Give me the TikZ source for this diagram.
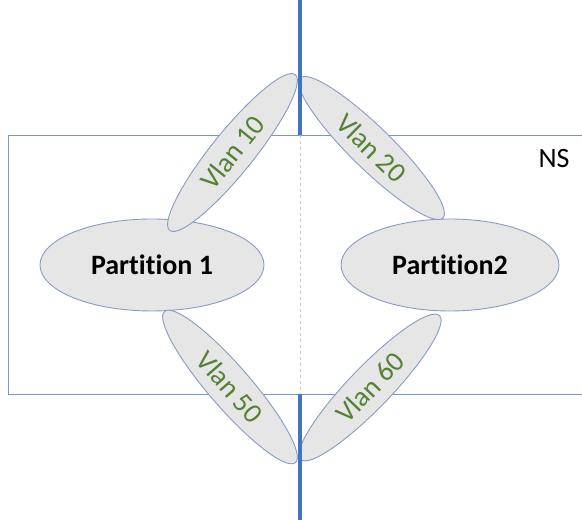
\documentclass[tikz,border=0pt]{standalone}
\usepackage{fontspec}
\setmainfont{Carlito}[Ligatures={NoCommon}]
\usetikzlibrary{shapes.geometric}

\begin{document}
\begin{tikzpicture}[x=1pt,y=1pt,font=\fontsize{28}{32}\selectfont]
\definecolor{cedge}{RGB}{135,155,195}\definecolor{cline}{RGB}{68,114,196}
\definecolor{cvlan}{RGB}{84,130,53}\definecolor{cfill}{RGB}{231,230,230}
\definecolor{cbox}{RGB}{120,150,200}
\tikzset{
  part/.style={ellipse,draw=cedge,fill=cfill,line width=0.9,inner sep=0pt,
    minimum width=#1,minimum height=92,font=\fontsize{28}{32}\selectfont\bfseries},
  vlan/.style={ellipse,draw=cedge,fill=cfill,line width=0.9,inner sep=0pt,
    minimum width=200,minimum height=42,text=cvlan,rotate=#1}}
\useasboundingbox (0,0) rectangle (582,520);
% ---- NS box, open on the right ----
\draw[cbox,line width=0.9] (582,385) -- (8,385) -- (8,126) -- (582,126);
\node (ns) at (554,361) {NS};
% ---- the two partitions ----
\node[part=224] (p1) at (152,255) {Partition 1};
\node[part=218] (p2) at (450,255) {Partition2};
% ---- the four vlans, tips meeting on the split line ----
\node[vlan=51.1]  (v10) at (232.5,367.5) {Vlan 10};
\node[vlan=-44.4] (v20) at (371.5,372)   {Vlan 20};
\node[vlan=-49.1] (v50) at (230,133)     {Vlan 50};
\node[vlan=46]    (v60) at (370,132.5)   {Vlan 60};
% ---- split line: solid outside the box, dashed inside ----
\draw[gray!40,dashed,line width=0.6] (300,385) -- (300,126);
\draw[cline,line width=3.2] (300,520) -- (300,385);
\draw[cline,line width=3.2] (300,126) -- (300,0);
\end{tikzpicture}
\end{document}
